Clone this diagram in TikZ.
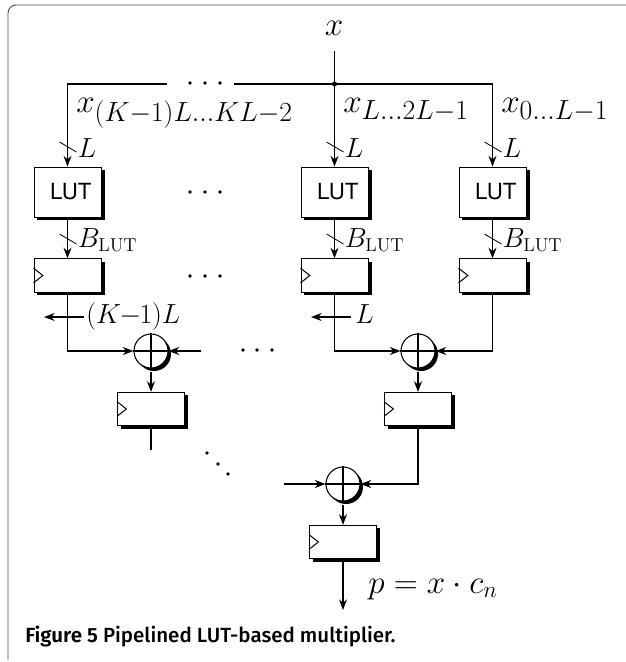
\documentclass[tikz,border=0pt]{standalone}
\usepackage{fontspec}
\usepackage{graphicx}
\newfontfamily\capfont{Fira Sans Medium}
\newfontfamily\capboldfont{Fira Sans SemiBold}
\newfontfamily\lutfont{TeX Gyre Heros}
\usetikzlibrary{arrows.meta}

\tikzset{
    wire/.style={line width=0.85pt},
    sig/.style={wire, -{Stealth[length=8pt,width=6pt]}},
    block/.style={draw, line width=0.7pt, fill=white, minimum width=50.25pt, inner sep=0pt},
    lut/.style={block, minimum height=37.5pt, font=\lutfont\fontsize{16.7}{17}\selectfont},
    reg/.style={block, minimum height=25pt},
    adder/.style={draw, circle, line width=0.8pt, fill=white, minimum size=25.5pt, inner sep=0pt},
    lbl/.style={inner sep=0pt, font=\fontsize{20}{20}\selectfont},
    biglbl/.style={inner sep=0pt, font=\fontsize{23}{23}\selectfont}
}

\newcommand{\clockmark}[1]{\draw[line width=0.75pt] ([yshift=-5.5pt]#1.west) -- ([xshift=7pt]#1.west) -- ([yshift=5.5pt]#1.west);}
\newcommand{\widesub}[1]{\scalebox{1.2}{$\scriptstyle #1$}}

\begin{document}
\begin{tikzpicture}[x=0.75pt,y=-0.75pt]
    \useasboundingbox (0,0) rectangle (626,662);
    \draw[line width=0.7pt, black!70, rounded corners=6pt] (8,660) -- (8,5) -- (626,5);

    % luts and registers of the three columns
    \foreach \name/\posx in {a/67.5, b/334.5, c/492.5} {
        \fill[black] (\posx-30.5,170) rectangle (\posx+37,220);
        \fill[black] (\posx-30.5,262) rectangle (\posx+37,295);
        \node[lut] (lut\name) at (\posx,192) {\hspace{5pt}LUT};
        \node[reg] (reg\name) at (\posx,275.5) {};
        \clockmark{reg\name}
        \draw[sig] (lut\name.south) -- (reg\name.north);
        \draw[line width=0.6pt] (\posx-8,142) -- (\posx+9,152);
        \draw[line width=0.6pt] (\posx-8,234) -- (\posx+9,244);
        \node[lbl, anchor=base west] (bits\name) at (\posx+10,157) {$L$};
        \node[lbl, anchor=base west] (width\name) at (\posx+10,247) {$B_{\mathrm{LUT}}$};
    }

    % adders with their registers
    \foreach \name/\posx/\posy in {d/151/351, e/418/351, f/343/484} {
        \fill[black] (\posx+3,\posy+3) circle (17);
        \node[adder] (add\name) at (\posx,\posy) {};
        \draw[line width=0.8pt] (add\name.north) -- (add\name.south) (add\name.west) -- (add\name.east);
        \fill[black] (\posx-30.5,\posy+44) rectangle (\posx+37,\posy+78);
        \node[reg] (reg\name) at (\posx,\posy+58) {};
        \clockmark{reg\name}
        \draw[sig] (add\name.south) ++(0,3) -- (reg\name.north);
    }

    % input bus
    \node[biglbl] (in) at (334,28) {$x$};
    \coordinate (top) at (334.5,51);
    \coordinate (bus) at (334.5,84);
    \coordinate (busl) at (234,84);
    \coordinate (busm) at (167,84);
    \draw[sig] (top) -- (lutb.north);
    \fill (bus) circle (2.5);
    \draw[sig] (busl) -- (bus) -| (lutc.north);
    \draw[sig] (busm) -| (luta.north);

    \node[biglbl, anchor=base west] (la) at (76,112) {$x_{\widesub{(K-1)L\ldots KL-2}}$};
    \node[biglbl, anchor=base west] (lb) at (343,112) {$x_{\widesub{L\ldots 2L-1}}$};
    \node[biglbl, anchor=base west] (lc) at (501,112) {$x_{\widesub{0\ldots L-1}}$};

    % shifts and adder inputs
    \draw[sig] (rega.south) |- (addd.west);
    \draw[sig] (regb.south) |- (adde.west);
    \draw[sig] (regc.south) |- (adde.east);
    \coordinate (opena) at (201,351);
    \draw[sig] (opena) -- (addd.east);
    \coordinate (shifta) at (84,317);
    \coordinate (shiftb) at (351,317);
    \draw[sig] (shifta) -- ++(-40,0);
    \draw[sig] (shiftb) -- ++(-40,0);
    \node[lbl, anchor=base west] (sa) at (86,323) {$(K\mkern-1mu{-}\mkern-1mu1)L$};
    \node[lbl, anchor=base west] (sb) at (355,323) {$L$};

    % last adder
    \coordinate (opend) at (151,450);
    \draw[wire] (regd.south) -- (opend);
    \draw[sig] (rege.south) |- (addf.east);
    \coordinate (openf) at (284,484);
    \draw[sig] (openf) -- (addf.west);
    \coordinate (out) at (343,610);
    \draw[sig] (regf.south) -- (out);
    \node[biglbl, anchor=base west, font=\fontsize{24}{24}\selectfont] (res) at (368,593) {$p = x\cdot c_n$};

    % dots
    \foreach \posx/\posy in {190/83, 205/83, 220/83, 190/192, 205/192, 220/192, 190/276, 205/276, 220/276,
        243/350, 257/350, 272/350, 207/453, 218/464, 228/474}
        \fill (\posx,\posy) circle (1.9);

    \node[anchor=base west, inner sep=0pt, font=\capfont\fontsize{15.4}{16}\selectfont] (cap) at (25,642)
        {{\capboldfont Figure 5} Pipelined LUT-based multiplier.};
\end{tikzpicture}
\end{document}
